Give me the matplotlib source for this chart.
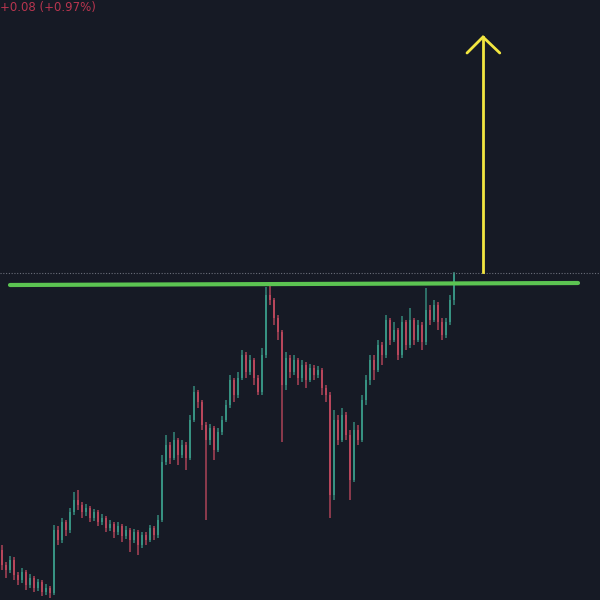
import numpy as np
import matplotlib.pyplot as plt

#candle data (price units)
first_open = 5.50
close = [5.35, 5.30, 5.40, 5.25, 5.20, 5.28, 5.15, 5.22, 5.12, 5.18,
         5.08, 5.12, 5.07, 5.70, 5.60, 5.78, 5.70, 5.88, 6.00, 5.95,
         5.88, 5.92, 5.82, 5.88, 5.78, 5.82, 5.72, 5.76, 5.68, 5.74,
         5.64, 5.70, 5.60, 5.68, 5.55, 5.65, 5.60, 5.72, 5.65, 5.80,
         6.38, 6.55, 6.42, 6.60, 6.45, 6.55, 6.42, 6.80, 7.08, 6.98,
         6.75, 6.60, 6.72, 6.50, 6.68, 6.80, 6.95, 7.20, 7.05, 7.22,
         7.45, 7.28, 7.40, 7.22, 7.08, 7.45, 8.05, 8.00, 7.82, 7.68,
         7.15, 7.42, 7.28, 7.40, 7.22, 7.35, 7.20, 7.32, 7.25, 7.30,
         7.12, 7.05, 6.05, 6.80, 6.60, 6.85, 6.65, 6.20, 6.70, 6.60,
         7.00, 7.20, 7.40, 7.30, 7.55, 7.45, 7.80, 7.60, 7.70, 7.45,
         7.78, 7.55, 7.80, 7.60, 7.75, 7.58, 7.90, 7.80, 7.95, 7.78,
         7.65, 7.78, 8.00, 8.27]
high = [5.55, 5.38, 5.44, 5.43, 5.28, 5.32, 5.30, 5.26, 5.24, 5.21,
        5.20, 5.16, 5.14, 5.75, 5.74, 5.82, 5.80, 5.92, 6.08, 6.10,
        5.98, 5.96, 5.94, 5.91, 5.90, 5.86, 5.84, 5.80, 5.78, 5.78,
        5.76, 5.74, 5.72, 5.71, 5.70, 5.68, 5.68, 5.75, 5.74, 5.85,
        6.45, 6.65, 6.58, 6.68, 6.62, 6.60, 6.58, 6.85, 7.14, 7.10,
        7.00, 6.78, 6.76, 6.74, 6.72, 6.84, 7.00, 7.25, 7.22, 7.28,
        7.50, 7.48, 7.45, 7.42, 7.25, 7.52, 8.13, 8.15, 8.02, 7.85,
        7.70, 7.48, 7.45, 7.45, 7.42, 7.40, 7.38, 7.36, 7.35, 7.34,
        7.32, 7.15, 7.08, 6.90, 6.85, 6.92, 6.88, 6.70, 6.78, 6.75,
        7.05, 7.25, 7.45, 7.45, 7.60, 7.58, 7.85, 7.82, 7.78, 7.72,
        7.84, 7.80, 7.92, 7.82, 7.80, 7.78, 8.12, 7.95, 8.00, 7.98,
        7.82, 7.82, 8.05, 8.28]
low = [5.30, 5.22, 5.27, 5.20, 5.15, 5.17, 5.10, 5.12, 5.08, 5.09,
       5.04, 5.05, 5.02, 5.05, 5.55, 5.57, 5.64, 5.67, 5.85, 5.90,
       5.82, 5.84, 5.78, 5.79, 5.74, 5.75, 5.68, 5.69, 5.62, 5.65,
       5.58, 5.61, 5.48, 5.57, 5.45, 5.52, 5.55, 5.58, 5.60, 5.62,
       5.78, 6.35, 6.36, 6.40, 6.35, 6.42, 6.30, 6.40, 6.78, 6.92,
       6.70, 5.80, 6.55, 6.40, 6.48, 6.65, 6.78, 6.92, 6.98, 7.02,
       7.20, 7.22, 7.25, 7.15, 7.05, 7.05, 7.42, 7.95, 7.75, 7.60,
       6.58, 7.10, 7.22, 7.25, 7.15, 7.18, 7.12, 7.18, 7.20, 7.22,
       7.05, 6.98, 5.82, 6.00, 6.55, 6.58, 6.60, 6.00, 6.18, 6.55,
       6.58, 6.95, 7.15, 7.20, 7.28, 7.35, 7.42, 7.55, 7.58, 7.40,
       7.42, 7.50, 7.52, 7.55, 7.58, 7.50, 7.55, 7.75, 7.78, 7.70,
       7.60, 7.62, 7.75, 7.95]

#resistance line and breakout arrow
level_start, level_end = 8.15, 8.17
level_x = (2, 144)
arrow_x = 120.25
arrow_base, arrow_top = 8.28, 10.63
last_price = 8.27
change_text = '+0.08 (+0.97%)'

bg = '#161a25'
up_col = '#3a9c8a'
down_col = '#c54a60'

close = np.array(close)
opens = np.concatenate([[first_open], close[:-1]])
high = np.array(high)
low = np.array(low)
idx = np.arange(len(close))
cols = np.where(close >= opens, up_col, down_col)

fig = plt.figure(figsize=(6, 6), dpi=100, facecolor=bg)
ax = fig.add_axes([0, 0, 1, 1])
ax.set_facecolor(bg)

#wicks and bodies
ax.vlines(idx, low, high, colors=cols, linewidth=1.1, alpha=0.85)
body_h = np.abs(close - opens)
body_h = np.maximum(body_h, 0.01)
ax.bar(idx, body_h, bottom=np.minimum(opens, close), width=0.72,
       color=cols, alpha=0.8, linewidth=0)

#last price dotted line
ax.axhline(last_price, color='#6a6e7a', linewidth=0.8, linestyle=(0, (1, 1.5)))

#green resistance line
ax.plot(level_x, [level_start, level_end], color='#5cc452', linewidth=3,
        solid_capstyle='round')

#yellow arrow
ax.plot([arrow_x, arrow_x], [arrow_base, arrow_top], color='#f2e640', linewidth=2.0)
ax.plot([arrow_x - 4, arrow_x, arrow_x + 4.2],
        [arrow_top - 0.16, arrow_top, arrow_top - 0.16],
        color='#f2e640', linewidth=2.0, solid_capstyle='round', solid_joinstyle='miter')

ax.text(-0.45, 10.92, change_text, color='#b8354f', fontsize=8.5,
        ha='left', va='center')

ax.set_xlim(-0.5, 149.5)
ax.set_ylim(5.0, 11.0)
ax.axis('off')

fig.savefig('out.png', dpi=100, facecolor=bg)
